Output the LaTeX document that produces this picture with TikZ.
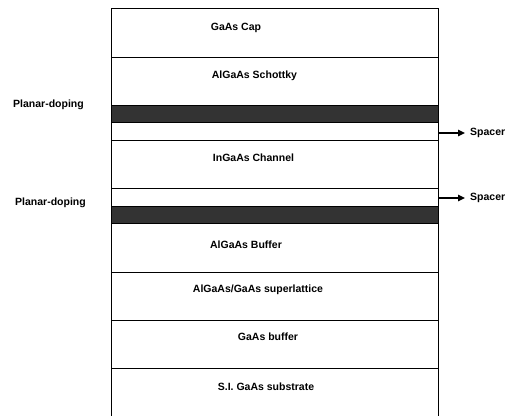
\documentclass[tikz,border=0pt]{standalone}
\usepackage{fontspec}
\setmainfont{Liberation Sans}
\usepackage{xcolor}
\usetikzlibrary{positioning,arrows.meta}

\definecolor{dopedark}{HTML}{333333}

\tikzset{
    layer/.style={draw, line width=0.7pt, minimum width=327pt, minimum height=#1,
        inner sep=0pt, outer sep=0pt},
    doping/.style={layer=#1, fill=dopedark},
    lbl/.style={font=\fontsize{10.5}{12}\selectfont\bfseries, inner sep=0pt},
    pointer/.style={-{Triangle[length=7pt,width=6.5pt]}, line width=1.3pt}
}

\begin{document}
\begin{tikzpicture}[x=1pt, y=1pt]
        \useasboundingbox (0,0) rectangle (508,415);
        % layer stack, top to bottom
        \node[layer=49pt, anchor=north west] (cap) at (111,407) {};
        \node[layer=48pt, below=0pt of cap] (schottky) {};
        \node[doping=17pt, below=0pt of schottky] (delta1) {};
        \node[layer=18pt, below=0pt of delta1] (spacer1) {};
        \node[layer=48pt, below=0pt of spacer1] (channel) {};
        \node[layer=18pt, below=0pt of channel] (spacer2) {};
        \node[doping=17pt, below=0pt of spacer2] (delta2) {};
        \node[layer=49pt, below=0pt of delta2] (buffer) {};
        \node[layer=48pt, below=0pt of buffer] (superlat) {};
        \node[layer=48pt, below=0pt of superlat] (gaasbuf) {};
        \node[layer=55pt, below=0pt of gaasbuf] (substrate) {};

        % layer names
        \node[lbl] (capname) at (236,387) {GaAs Cap};
        \node[lbl] (schottkyname) at (254.5,339) {AlGaAs Schottky};
        \node[lbl] (channelname) at (253.5,257) {InGaAs Channel};
        \node[lbl] (buffername) at (246,170) {AlGaAs Buffer};
        \node[lbl] (superlatname) at (258,125) {AlGaAs/GaAs superlattice};
        \node[lbl] (gaasbufname) at (268,78) {GaAs buffer};
        \node[lbl] (substratename) at (266,28) {S.I. GaAs substrate};

        % side labels
        \node[lbl] (doping1) at (48.5,310) {Planar-doping};
        \node[lbl] (doping2) at (50.5,212) {Planar-doping};
        \node[lbl, anchor=west] (spacername1) at (470,282) {Spacer};
        \node[lbl, anchor=west] (spacername2) at (470,217) {Spacer};
        \coordinate (tip1) at (465,282);
        \coordinate (tip2) at (465,217);

        \draw[pointer] (spacer1.east |- tip1) -- (tip1);
        \draw[pointer] (spacer2.east |- tip2) -- (tip2);
    \end{tikzpicture}
\end{document}
